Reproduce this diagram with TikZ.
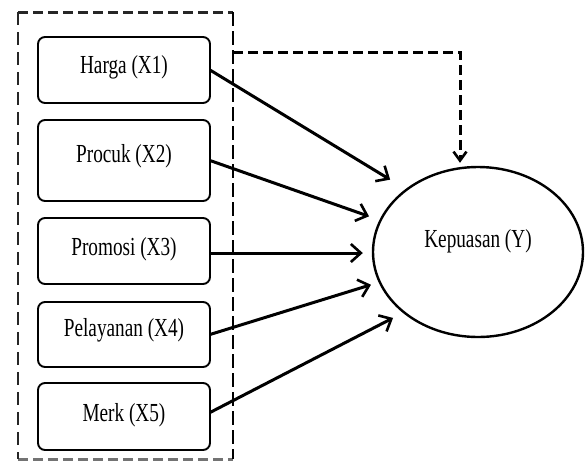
\documentclass[tikz,border=0pt]{standalone}
\usepackage{fontspec}
\setmainfont{Liberation Serif}[FakeStretch=0.74]
\usetikzlibrary{arrows.meta,calc,shapes.geometric}
\begin{document}
\begin{tikzpicture}[x=1pt,y=-1pt,
  box/.style={draw, line width=1.9pt, rounded corners=7pt, minimum width=172pt,
    inner sep=0pt, outer sep=0pt, text height=18pt, text depth=10pt,
    font=\fontsize{26}{30}\selectfont},
  conn/.style={line width=3pt, -{Straight Barb[length=10pt,width=18pt,line width=2.6pt]}},
  dconn/.style={line width=3pt, dash pattern=on 10pt off 5pt,
    -{Straight Barb[length=9pt,width=13pt,line width=2.6pt]}},
]
\useasboundingbox (0,0) rectangle (585,464);
% group frame
\node[minimum width=215pt, minimum height=447pt, inner sep=0pt, outer sep=0pt] (grp) at (125.5,235.5) {};
\draw[line width=3pt, dash pattern=on 10pt off 5pt, black!85] (grp.north west) -- (grp.north east);
\draw[line width=3pt, dash pattern=on 10pt off 5pt, black!55] (grp.south west) -- (grp.south east);
\draw[line width=2.2pt, dash pattern=on 13pt off 7pt, black!85] (grp.north west) -- (grp.south west);
\draw[line width=1.1pt, dash pattern=on 14pt off 5pt] (grp.north east) -- (grp.south east);
% boxes
\node[box, minimum height=66pt, text depth=12pt] (b1) at (124,70) {Harga (X1)};
\node[box, minimum height=81pt, text depth=14pt] (b2) at (124,160.5) {Procuk (X2)};
\node[box, minimum height=66pt, text depth=9pt] (b3) at (124,251) {Promosi (X3)};
\node[box, minimum height=65pt, text depth=15pt] (b4) at (124,334.5) {Pelayanan (X4)};
\node[box, minimum height=67pt, text depth=9pt] (b5) at (124,416.5) {Merk (X5)};
% target
\node[ellipse, draw, line width=2.4pt, minimum width=210pt, minimum height=170pt,
  inner sep=0pt, text height=18pt, text depth=28pt,
  font=\fontsize{26}{30}\selectfont] (y) at (478,252) {Kepuasan (Y)};
% connectors
\draw[conn, shorten >=18pt] (b1.east) -- (y.139);
\draw[conn, shorten >=11pt] (b2.east) -- (y.162);
\draw[conn, shorten >=9pt] ([yshift=-2pt]b3.east) -- ([yshift=-2pt]b3.east -| y.west);
\draw[conn, shorten >=8pt] (b4.east) -- (y.197);
\draw[conn, shorten >=11pt] ([yshift=4pt]b5.east) -- (y.219);
\draw[dconn, shorten >=3pt] ($(grp.north east)+(0,40)$) -| ([xshift=-18pt]y.north);
\end{tikzpicture}
\end{document}
